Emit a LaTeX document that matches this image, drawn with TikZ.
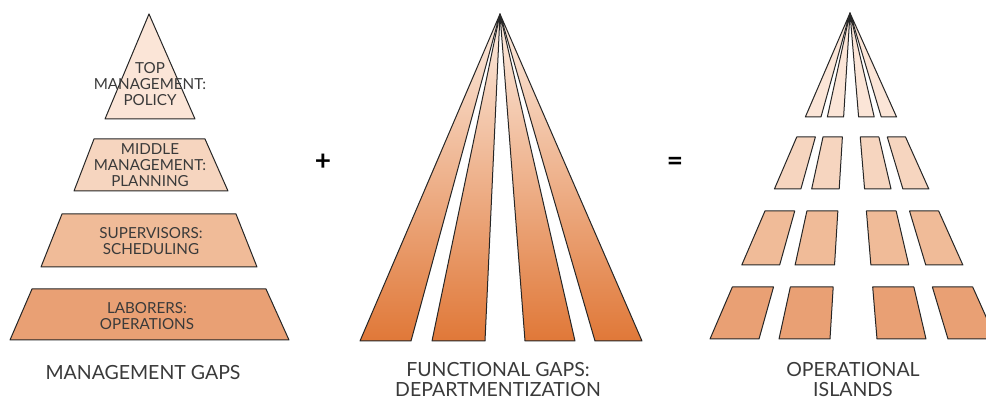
\documentclass[tikz,border=0pt]{standalone}
\usepackage{fontspec}
\setmainfont{Lato}
\usetikzlibrary{positioning,calc}
\definecolor{ink}{HTML}{3A3A3A}
\definecolor{tA}{HTML}{FBE5D7}
\definecolor{tB}{HTML}{F6D5BF}
\definecolor{tC}{HTML}{F0BB98}
\definecolor{tD}{HTML}{E9A074}
\definecolor{fanlo}{HTML}{E07838}
\definecolor{fanhi}{HTML}{FCECE1}
\tikzset{tier/.style={draw=black!85, line width=1pt, line join=round},
  inlbl/.style={align=center, text=ink, font=\fontsize{15.2}{16}\selectfont},
  caption/.style={align=center, text=ink, font=\fontsize{19.5}{20}\selectfont},
  opsign/.style={font=\bfseries\fontsize{28}{28}\selectfont}}

\begin{document}
\begin{tikzpicture}[x=1pt, y=-1pt]
\useasboundingbox (0,0) rectangle (986,403);
% management gaps: the stacked pyramid
\draw[tier, fill=tA] (149,14) -- (195,119) -- (105,119) -- cycle;
\foreach \tl/\tr/\br/\bl/\ty/\by/\col in {94/205/228/74/139/191/tB, 62/236/257/41/214/267/tC, 32/266/289/10/289/340/tD}
  \draw[tier, fill=\col] (\tl,\ty) -- (\tr,\ty) -- (\br,\by) -- (\bl,\by) -- cycle;
\node[inlbl] (policy) at (150,84) {TOP\\MANAGEMENT:\\POLICY};
\node[inlbl] (planning) at (150,165) {MIDDLE\\MANAGEMENT:\\PLANNING};
\node[inlbl] (scheduling) at (151,241) {SUPERVISORS:\\SCHEDULING};
\node[inlbl] (operations) at (147,316) {LABORERS:\\OPERATIONS};
\node[caption] (mgaps) at (143,373) {MANAGEMENT GAPS};
\node[opsign] (plus) at (323,162) {+};
% functional gaps: strips fanning out of one apex
\foreach \dl/\dr in {-140/-89, -68/-15, 25/75, 95/142}
  \draw[tier, top color=fanhi, bottom color=fanlo] (500,14) -- ({500+\dr},341) -- ({500+\dl},341) -- cycle;
\node[caption] (fgaps) at (498,380) {FUNCTIONAL GAPS:\\DEPARTMENTIZATION};
\node[opsign] (equals) at (675,164) {=};
% operational islands: the fan cut by the pyramid's bands
\foreach \dl/\dr in {-140/-91, -71/-20, 27/76, 98/146}
  \draw[tier, fill=tA] (850,13) -- ({850+\dr/326*104},117) -- ({850+\dl/326*104},117) -- cycle;
\foreach \ya/\yb/\col in {137/189/tB, 211/265/tC, 287/339/tD}
  \foreach \dl/\dr in {-140/-91, -71/-20, 27/76, 98/146}
    \draw[tier, fill=\col] ({850+\dl/326*(\ya-13)},\ya) -- ({850+\dr/326*(\ya-13)},\ya)
      -- ({850+\dr/326*(\yb-13)},\yb) -- ({850+\dl/326*(\yb-13)},\yb) -- cycle;
\node[caption] (islands) at (853,380) {OPERATIONAL\\ISLANDS};
\end{tikzpicture}
\end{document}
